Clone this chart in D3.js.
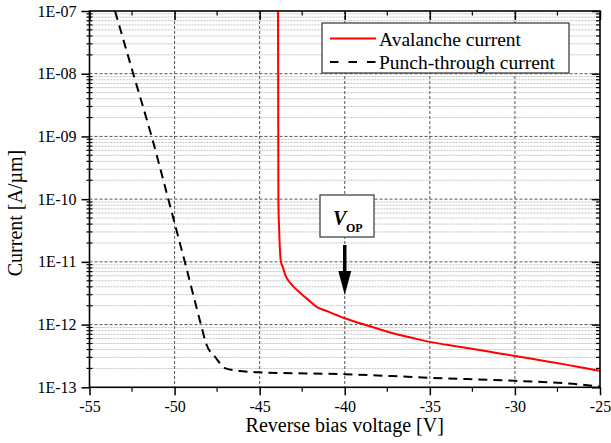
<!DOCTYPE html>
<html>
<head>
<meta charset="utf-8">
<script src="https://cdn.jsdelivr.net/npm/d3@7"></script>
<style>
  body { margin: 0; background: #fff; }
  svg text { font-family: "Liberation Serif", "Times New Roman", serif; fill: #000; }
</style>
</head>
<body>
<div id="chart"></div>
<script>
// values
const xTicks = [-55, -50, -45, -40, -35, -30, -25];
const yDecades = [1e-13, 1e-12, 1e-11, 1e-10, 1e-9, 1e-8, 1e-7];

const avalancheV = [-43.92, -43.9, -43.85, -43.75, -43.65, -43.5, -43.2, -43.0, -42.5, -42.0, -41.75, -41, -40, -39, -38, -37, -36, -35, -34, -33, -32, -31, -30, -29, -28, -27, -26, -25];
const avalancheI = [1e-7, 1e-10, 3e-11, 1e-11, 8.4e-12, 6.2e-12, 4.6e-12, 4.0e-12, 3.0e-12, 2.3e-12, 2.0e-12, 1.62e-12, 1.26e-12, 1.03e-12, 8.5e-13, 7.1e-13, 6.1e-13, 5.3e-13, 4.75e-13, 4.3e-13, 3.9e-13, 3.5e-13, 3.16e-13, 2.85e-13, 2.55e-13, 2.3e-13, 2.05e-13, 1.82e-13];

const punchV = [-53.5, -52.43, -51.35, -50.37, -49.4, -48.45, -48.15, -47.6, -47, -46, -45, -40, -35, -30, -28, -26, -25];
const punchI = [1e-7, 1e-8, 1e-9, 1e-10, 1e-11, 1e-12, 5e-13, 3e-13, 2e-13, 1.8e-13, 1.73e-13, 1.62e-13, 1.42e-13, 1.27e-13, 1.2e-13, 1.1e-13, 1.02e-13];

const seriesNames = ["Avalanche current", "Punch-through current"];
const vopLabel = "V";
const vopSub = "OP";
const vopAt = -40;

const W = 611, H = 443;
const pLeft = 89.5, pRight = 600, pTop = 11, pBottom = 387.3;

const svg = d3.select("#chart").append("svg")
    .attr("width", W).attr("height", H);

const x = d3.scaleLinear().domain([-55, -25]).range([pLeft, pRight]);
const y = d3.scaleLog().domain([1e-13, 1e-7]).range([pBottom, pTop]);

// minor values
const yMinor = [];
yDecades.slice(0, -1).forEach(d => { for (let k = 2; k <= 9; k++) yMinor.push(d * k); });
const xMinor = d3.range(-52.5, -25, 5);

// grid
const grid = svg.append("g");
grid.selectAll(".ymin").data(yMinor).join("line")
    .attr("x1", pLeft).attr("x2", pRight)
    .attr("y1", d => y(d)).attr("y2", d => y(d))
    .attr("stroke", "#c4c4c4").attr("stroke-width", 1).attr("stroke-dasharray", "2,1");
grid.selectAll(".ymaj").data(yDecades.slice(1, -1)).join("line")
    .attr("x1", pLeft).attr("x2", pRight)
    .attr("y1", d => y(d)).attr("y2", d => y(d))
    .attr("stroke", "#555").attr("stroke-width", 1).attr("stroke-dasharray", "3,2");
grid.selectAll(".xmaj").data(xTicks.slice(1, -1)).join("line")
    .attr("y1", pTop).attr("y2", pBottom)
    .attr("x1", d => x(d)).attr("x2", d => x(d))
    .attr("stroke", "#555").attr("stroke-width", 1).attr("stroke-dasharray", "3,2");

// curves
svg.append("clipPath").attr("id", "clip").append("rect")
    .attr("x", pLeft).attr("y", pTop).attr("width", pRight - pLeft).attr("height", pBottom - pTop);

const line = d3.line().x(d => x(d[0])).y(d => y(d[1])).curve(d3.curveMonotoneX);
const plot = svg.append("g").attr("clip-path", "url(#clip)");
plot.append("path")
    .datum(punchV.map((v, i) => [v, punchI[i]]))
    .attr("d", line).attr("fill", "none")
    .attr("stroke", "#000").attr("stroke-width", 2).attr("stroke-dasharray", "9,6");
plot.append("path")
    .datum(avalancheV.map((v, i) => [v, avalancheI[i]]))
    .attr("d", line).attr("fill", "none")
    .attr("stroke", "#f00").attr("stroke-width", 2);

// axes
const yFmt = d => "1E-" + String(-Math.round(Math.log10(d))).padStart(2, "0");

const axB = svg.append("g").attr("transform", `translate(0,${pBottom})`)
    .call(d3.axisBottom(x).tickValues(xTicks).tickSize(8).tickPadding(5).tickFormat(d => String(d)));
svg.append("g").selectAll("line").data(xMinor).join("line")
    .attr("x1", d => x(d)).attr("x2", d => x(d))
    .attr("y1", pBottom).attr("y2", pBottom + 4.5).attr("stroke", "#000").attr("stroke-width", 1.2);

const axT = svg.append("g").attr("transform", `translate(0,${pTop})`)
    .call(d3.axisBottom(x).tickValues(xTicks).tickSize(9).tickFormat(""));
svg.append("g").selectAll("line").data(xMinor).join("line")
    .attr("x1", d => x(d)).attr("x2", d => x(d))
    .attr("y1", pTop).attr("y2", pTop + 4.5).attr("stroke", "#000").attr("stroke-width", 1.2);

const axL = svg.append("g").attr("transform", `translate(${pLeft},0)`)
    .call(d3.axisLeft(y).tickValues(yDecades).tickSize(8).tickPadding(5).tickFormat(yFmt));
svg.append("g").selectAll("line").data(yMinor).join("line")
    .attr("x1", pLeft - 3).attr("x2", pLeft + 3)
    .attr("y1", d => y(d)).attr("y2", d => y(d)).attr("stroke", "#000").attr("stroke-width", 1.2);

const axR = svg.append("g").attr("transform", `translate(${pRight},0)`)
    .call(d3.axisLeft(y).tickValues(yDecades).tickSize(8).tickFormat(""));
axR.selectAll(".tick line").attr("x2", -8);
svg.append("g").selectAll("line").data(yMinor).join("line")
    .attr("x1", pRight - 4).attr("x2", pRight)
    .attr("y1", d => y(d)).attr("y2", d => y(d)).attr("stroke", "#000").attr("stroke-width", 1.2);

[axB, axT, axL, axR].forEach(a => {
  a.attr("font-family", null);
  a.select(".domain").remove();
  a.selectAll(".tick line").attr("stroke", "#000").attr("stroke-width", 1.5);
  a.selectAll(".tick text").style("font-family", "'Liberation Serif', serif").style("font-size", "16px").attr("fill", "#000");
});

// frame
svg.append("rect").attr("x", pLeft).attr("y", pTop)
    .attr("width", pRight - pLeft).attr("height", pBottom - pTop)
    .attr("fill", "none").attr("stroke", "#000").attr("stroke-width", 1.6);

// axis titles
svg.append("text").attr("x", (pLeft + pRight) / 2).attr("y", 432)
    .attr("text-anchor", "middle").style("font-size", "20px")
    .text("Reverse bias voltage [V]");
svg.append("text").attr("transform", "translate(22,213) rotate(-90)")
    .attr("text-anchor", "middle").style("font-size", "20px")
    .text("Current [A/µm]");

// legend
const lg = svg.append("g");
lg.append("rect").attr("x", 322).attr("y", 23).attr("width", 247).attr("height", 50)
    .attr("fill", "#fff").attr("stroke", "#333").attr("stroke-width", 1.2);
lg.append("line").attr("x1", 330).attr("x2", 376).attr("y1", 38.5).attr("y2", 38.5)
    .attr("stroke", "#f00").attr("stroke-width", 2);
lg.append("line").attr("x1", 330).attr("x2", 376).attr("y1", 62).attr("y2", 62)
    .attr("stroke", "#000").attr("stroke-width", 2).attr("stroke-dasharray", "8.5,10");
lg.selectAll("text").data(seriesNames).join("text")
    .attr("x", 379).attr("y", (d, i) => 45.5 + i * 23.5)
    .style("font-size", "19.5px").text(d => d);

// V_OP annotation
const ax = x(vopAt);
svg.append("rect").attr("x", 320).attr("y", 195).attr("width", 54).attr("height", 42)
    .attr("fill", "#fff").attr("stroke", "#444").attr("stroke-width", 1.3);
const vt = svg.append("text").attr("x", 333).attr("y", 225);
vt.append("tspan").style("font-size", "20px").style("font-style", "italic").style("font-weight", "bold").text(vopLabel);
vt.append("tspan").attr("x", 346).attr("y", 231.7).style("font-size", "12px").style("font-weight", "bold").text(vopSub);
svg.append("line").attr("x1", ax).attr("x2", ax).attr("y1", 245).attr("y2", 274)
    .attr("stroke", "#000").attr("stroke-width", 3.5);
svg.append("path")
    .attr("d", `M${ax - 6.5},271 L${ax + 6.5},271 L${ax},295 Z`)
    .attr("fill", "#000");
</script>
</body>
</html>
